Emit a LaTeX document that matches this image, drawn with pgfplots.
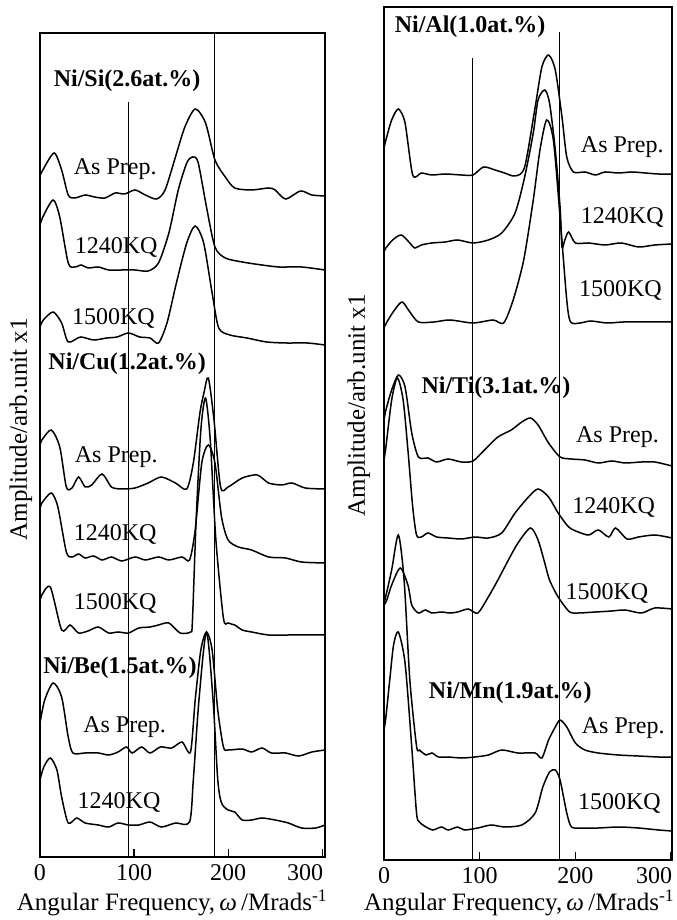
\documentclass[border=0pt]{standalone}
\usepackage{fontspec}
\setmainfont{Liberation Serif}
\usepackage{pgfplots}
\pgfplotsset{compat=1.18}

\pgfplotsset{
  spec/.style={
    scale only axis, xmin=0, ymin=0,
    axis line style={line width=0.7pt},
    xtick={0,100,200,300}, ytick=\empty,
    xticklabels={0,100,200,300\kern17pt},
    xtick pos=left, tick align=inside, major tick length=4pt,
    tick style={line width=0.6pt, black},
    /pgf/number format/assume math mode=true,
    ticklabel style={font=\fontsize{12}{14}\selectfont},
    label style={font=\fontsize{12.5}{14}\selectfont},
    xlabel={Angular Frequency,\,\textit{ω}\,/Mrads\textsuperscript{-1}},
    ylabel={Amplitude/arb.unit x1},
  },
  curve/.style={black, line width=0.75pt, smooth, tension=0.45, no marks},
}
\tikzset{
  lbl/.style={font=\fontsize{12}{14}\selectfont, inner sep=0pt},
  blbl/.style={font=\fontsize{12}{14}\selectfont\bfseries, inner sep=0pt},
}

\begin{document}
\begin{tikzpicture}[x=1pt,y=1pt]
\path[use as bounding box] (0,0) rectangle (338,460);

% left panel: Si, Cu, Be
\begin{axis}[spec, at={(20pt,31.5pt)}, anchor=south west,
  width=142.5pt, height=412pt, xmax=303, ymax=824,
  ylabel style={at={(axis description cs:-0.067,0.519)}, anchor=center},
  xlabel style={at={(axis description cs:0.464,-0.056)}, anchor=center}]
\draw[line width=0.4pt] (94,0) -- (94,755);
\draw[line width=0.4pt] (185,0) -- (185,824);
% Ni/Si
\addplot[curve] coordinates {(0,681) (3,687) (15,704) (23,687) (30,662) (37,659) (48,662) (58,660) (69,659) (80,664) (90,663) (101,667) (112,662) (124,658) (133,667) (144,700) (154,730) (165,748) (176,734) (186,697) (197,680) (207,669) (225,667) (243,669) (250,667) (261,658) (277,666) (289,662) (303,661)};
\addplot[curve] coordinates {(0,632) (3.5,641) (14,657) (21,640) (30,594) (37,590) (44,592) (51,589) (62,590) (73,587) (87,587) (101,587) (115,586) (126,594) (137,624) (147,667) (156,694) (162,700) (168,695) (177,650) (186,610) (197,599) (215,595) (236,592) (254,590) (278,590) (303,587)};
\addplot[curve] coordinates {(0,530) (3.5,537) (14,545) (23,534) (30,515) (43,520) (57,517) (71,519) (82,520) (94,524) (106,520) (117,519) (126,514) (135,534) (145,574) (156,614) (165,631) (174,614) (183,564) (190,529) (202,522) (220,519) (241,515) (262,514) (284,514) (303,512)};
% Ni/Cu
\addplot[curve] coordinates {(0,412) (2,417) (12,427) (21,410) (28,370) (34,369) (41,380) (48,370) (55,372) (66,383) (76,370) (87,368) (101,369) (115,374) (129,380) (144,374) (156,368) (163,394) (170,444) (174.5,465) (179,479) (185,437) (192,370) (200,370) (215,379) (231,382) (243,374) (257,372) (268,374) (282,369) (303,368)};
\addplot[curve] coordinates {(0,348) (2,354) (12,364) (19,350) (28,305) (34,300) (41,303) (48,299) (57,301) (66,297) (76,300) (87,296) (101,300) (112,297) (126,300) (137,297) (151,300) (159,297) (165,327) (172,394) (179,412) (186,394) (193,340) (200,317) (211,310) (225,307) (243,300) (261,299) (278,295) (303,294)};
\addplot[curve] coordinates {(0,256) (2,262) (11,270) (23,227) (32,232) (41,224) (51,226) (62,230) (73,224) (83,225) (94,224) (105,229) (117,230) (126,232) (137,234) (149,224) (160,225) (162,235) (166,337) (171,427) (176,459) (181,417) (187,317) (195,239) (200,234) (207,232) (215,227) (225,225) (243,222) (264,222) (303,222)};
% Ni/Be
\addplot[curve] coordinates {(0,134) (5,157) (14,174) (23,160) (30,120) (35,104) (48,104) (62,104) (73,102) (83,105) (92,110) (98,104) (108,110) (117,104) (128,110) (140,109) (151,115) (160,105) (165,157) (171,207) (177,225) (183,207) (189,147) (195,110) (200,107) (215,108) (225,105) (236,109) (246,104) (261,104) (275,101) (289,105) (303,107)};
\addplot[curve] coordinates {(0,77) (4,90) (11,99) (18,87) (23,60) (30,34) (39,39) (48,34) (62,32) (73,30) (83,34) (94,32) (105,32) (117,35) (129,30) (144,34) (159,35) (163,77) (169,157) (177,225) (184,157) (189,77) (193,54) (200,47) (207,45) (215,37) (225,37) (236,39) (250,37) (264,34) (278,29) (293,29) (303,32)};
\node[blbl] at (92.6,776) {Ni/Si(2.6at.\%)};
\node[lbl] at (80,688) {As Prep.};
\node[lbl] at (81,610) {1240KQ};
\node[lbl] at (78,539) {1500KQ};
\node[blbl] at (92.6,493) {Ni/Cu(1.2at.\%)};
\node[lbl] at (81,400) {As Prep.};
\node[lbl] at (80,323) {1240KQ};
\node[lbl] at (80,254) {1500KQ};
\node[blbl] at (85,189) {Ni/Be(1.5at.\%)};
\node[lbl] at (90,130) {As Prep.};
\node[lbl] at (84,55) {1240KQ};
\end{axis}

% right panel: Al, Ti, Mn
\begin{axis}[spec, at={(192pt,30pt)}, anchor=south west,
  width=144pt, height=426.5pt, xmax=301, ymax=853,
  ylabel style={at={(axis description cs:-0.087,0.533)}, anchor=center},
  xlabel style={at={(axis description cs:0.47,-0.05)}, anchor=center}]
\draw[line width=0.4pt] (92,0) -- (92,802);
\draw[line width=0.4pt] (183,0) -- (183,828);
% Ni/Al
\addplot[curve] coordinates {(0,712) (2,720) (8,740) (15,751) (22,737) (30,685) (39,687) (50,685) (64,686) (81,685) (93,685) (104,693) (116,690) (126,687) (137,684) (147,693) (158,753) (165,793) (172,805) (179,790) (186,743) (191,703) (198,688) (210,688) (221,685) (231,688) (245,687) (259,688) (273,687) (287,686) (301,686)};
\addplot[curve] coordinates {(0,608) (2,612) (9,620) (18,625) (27,617) (32,612) (39,615) (50,617) (64,618) (77,620) (93,617) (109,620) (123,627) (137,647) (147,683) (156,727) (161,760) (168,770) (173,757) (179,710) (184,653) (186,613) (189,620) (193,628) (200,617) (214,617) (231,615) (248,617) (266,613) (283,615) (301,616)};
\addplot[curve] coordinates {(0,532) (3,538) (11,550) (19,558) (27,548) (36,538) (52,538) (69,540) (93,537) (114,540) (125,537) (135,560) (146,600) (156,660) (163,710) (170,740) (177,720) (184,643) (191,560) (195,538) (205,537) (216,539) (233,537) (250,538) (268,538) (301,538)};
% Ni/Ti
\addplot[curve] coordinates {(0,440) (2,450) (8,470) (15,485) (22,473) (29,427) (36,403) (46,402) (55,398) (67,401) (81,398) (93,399) (105,410) (119,423) (133,430) (144,438) (153,442) (161,435) (172,417) (184,403) (196,401) (210,400) (224,397) (238,399) (252,397) (269,398) (283,398) (301,394)};
\addplot[curve] coordinates {(0,400) (2,413) (8,460) (14,482) (20,460) (25,410) (30,353) (34,325) (39,323) (46,327) (55,323) (67,322) (81,321) (95,323) (109,322) (123,327) (137,347) (151,363) (161,371) (172,363) (182,347) (193,333) (203,328) (214,325) (224,330) (235,323) (242,332) (254,321) (266,323) (283,325) (301,322)};
\addplot[curve] coordinates {(0,255) (3,260) (8,275) (17,292) (25,275) (29,255) (36,247) (43,250) (50,247) (60,248) (69,247) (77,248) (88,251) (98,247) (109,263) (119,280) (130,300) (140,317) (153,332) (161,320) (168,297) (173,280) (182,263) (194,248) (203,247) (221,248) (238,249) (252,250) (269,247) (283,252) (301,251)};
% Ni/Mn
\addplot[curve] coordinates {(0,255) (1,260) (8,290) (15,325) (21,280) (27,180) (34,114) (37,110) (44,105) (50,107) (57,103) (67,103) (81,102) (95,103) (109,105) (123,110) (140,107) (158,107) (165,102) (172,120) (179,133) (184,140) (191,133) (200,117) (210,110) (224,107) (245,105) (266,104) (287,103) (301,103)};
\addplot[curve] coordinates {(0,130) (2,143) (6,180) (10,215) (15,228) (22,197) (29,113) (34,47) (37,38) (44,33) (51,30) (60,33) (67,30) (77,33) (84,30) (98,32) (112,35) (126,33) (144,35) (158,47) (166,73) (173,88) (179,90) (184,80) (191,47) (196,33) (207,32) (224,32) (245,33) (266,32) (287,30) (301,29)};
\node[blbl] at (90,833) {Ni/Al(1.0at.\%)};
\node[lbl] at (249,713) {As Prep.};
\node[lbl] at (249,643) {1240KQ};
\node[lbl] at (247,570) {1500KQ};
\node[blbl] at (117,472) {Ni/Ti(3.1at.\%)};
\node[lbl] at (244,423) {As Prep.};
\node[lbl] at (240,353) {1240KQ};
\node[lbl] at (233,267) {1500KQ};
\node[blbl] at (132,167) {Ni/Mn(1.9at.\%)};
\node[lbl] at (250,132) {As Prep.};
\node[lbl] at (246,57) {1500KQ};
\end{axis}
\end{tikzpicture}
\end{document}
